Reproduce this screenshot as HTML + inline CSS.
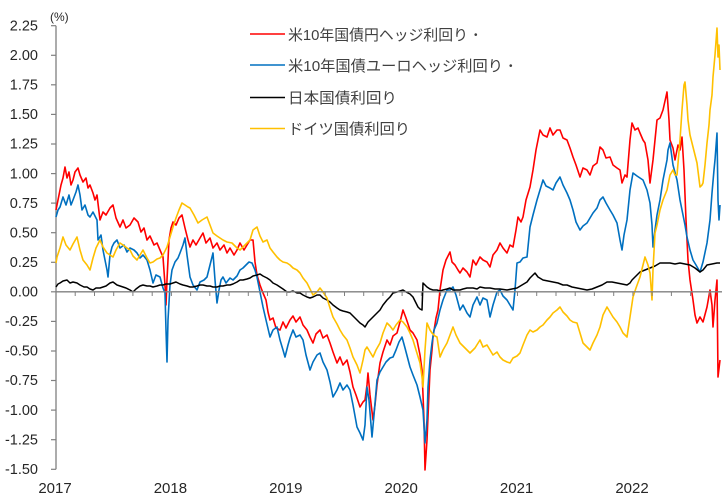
<!DOCTYPE html>
<html><head><meta charset="utf-8"><style>
html,body{margin:0;padding:0;background:#fff;}
svg{display:block;}
.t{font-family:"Liberation Sans","Noto Sans CJK JP",sans-serif;fill:#262626;}
</style></head><body>
<svg width="724" height="504" viewBox="0 0 724 504" xmlns="http://www.w3.org/2000/svg">
<rect width="724" height="504" fill="#fff"/>
<!-- y axis -->
<line x1="56" y1="25.7" x2="56" y2="469.3" stroke="#808080" stroke-width="1.3"/>
<g stroke="#808080" stroke-width="1.2">
<line x1="51" y1="25.7" x2="56" y2="25.7"/><line x1="51" y1="55.3" x2="56" y2="55.3"/>
<line x1="51" y1="84.8" x2="56" y2="84.8"/><line x1="51" y1="114.4" x2="56" y2="114.4"/>
<line x1="51" y1="144" x2="56" y2="144"/><line x1="51" y1="173.6" x2="56" y2="173.6"/>
<line x1="51" y1="203.1" x2="56" y2="203.1"/><line x1="51" y1="232.7" x2="56" y2="232.7"/>
<line x1="51" y1="262.3" x2="56" y2="262.3"/><line x1="51" y1="291.8" x2="56" y2="291.8"/>
<line x1="51" y1="321.4" x2="56" y2="321.4"/><line x1="51" y1="351" x2="56" y2="351"/>
<line x1="51" y1="380.5" x2="56" y2="380.5"/><line x1="51" y1="410.1" x2="56" y2="410.1"/>
<line x1="51" y1="439.7" x2="56" y2="439.7"/><line x1="51" y1="469.3" x2="56" y2="469.3"/>
</g>
<g class="t" font-size="14.5" text-anchor="end">
<text x="38" y="30.5">2.25</text><text x="38" y="60">2.00</text>
<text x="38" y="89.5">1.75</text><text x="38" y="119">1.50</text>
<text x="38" y="148.7">1.25</text><text x="38" y="178.3">1.00</text>
<text x="38" y="207.8">0.75</text><text x="38" y="237.4">0.50</text>
<text x="38" y="267">0.25</text><text x="38" y="296.5">0.00</text>
<text x="38" y="326.1">-0.25</text><text x="38" y="355.7">-0.50</text>
<text x="38" y="385.2">-0.75</text><text x="38" y="414.8">-1.00</text>
<text x="38" y="444.4">-1.25</text><text x="38" y="474">-1.50</text>
</g>
<text class="t" x="50" y="21" font-size="12">(%)</text>
<!-- x labels -->
<g class="t" font-size="15" text-anchor="middle">
<text x="55" y="493">2017</text><text x="170.4" y="493">2018</text>
<text x="285.8" y="493">2019</text><text x="401.2" y="493">2020</text>
<text x="516.6" y="493">2021</text><text x="632" y="493">2022</text>
</g>
<!-- series -->
<g fill="none" stroke-width="1.6" stroke-linejoin="round">
<polyline stroke="#FF0000" points="56,210 58,200 61,185 63,178 65,167 67,178 69,172 71,185 73,180 75,172 78,168 80,175 83,182 86,178 88,188 90,185 93,193 95,200 97,195 100,220 103,212 106,215 110,208 113,205 116,218 120,227 123,220 126,228 130,225 134,218 138,222 141,232 144,228 147,240 150,236 154,245 157,243 160,250 163,257 165,285 166,305 167,280 169,240 171,228 173,222 176,225 179,218 182,215 185,228 188,240 190,247 193,240 196,245 200,238 203,233 206,243 210,238 213,248 217,243 220,250 224,245 227,253 230,248 234,255 237,250 240,243 244,250 247,245 250,240 253,240 255,262 257,275 260,285 263,293 266,300 268,312 270,320 273,318 276,328 280,330 283,322 286,328 290,320 293,316 296,322 300,317 303,325 307,330 310,337 313,343 316,334 320,330 323,338 327,335 330,343 333,352 337,363 340,357 343,365 347,360 350,372 353,387 356,395 360,407 363,402 365,400 367,385 368,373 370,395 373,420 375,405 377,385 380,363 383,352 387,340 390,345 393,336 397,333 400,322 403,310 406,318 410,330 413,333 417,340 420,355 422,370 424,420 425,470 427,440 430,370 432,350 433,337 436,318 438,310 440,290 443,270 446,260 450,252 452,262 455,265 458,270 460,273 463,268 467,272 470,277 473,260 476,265 480,257 483,260 487,262 490,267 493,255 497,250 500,243 503,248 507,253 510,245 513,247 516,230 518,217 521,222 523,217 526,200 530,187 533,170 536,150 540,130 543,135 547,137 550,128 553,135 557,130 560,130 563,138 567,140 570,148 573,157 576,165 580,177 583,168 587,170 590,175 593,166 597,163 600,147 603,150 606,158 610,157 613,165 617,168 620,170 622,183 625,175 627,177 630,140 632,123 635,130 638,128 640,133 643,140 645,143 648,160 650,183 653,160 655,140 657,120 660,118 663,110 667,92 669,120 670,140 673,148 675,160 678,145 680,150 682,137 684,170 686,220 688,260 690,280 693,300 695,315 697,323 700,317 703,322 707,307 710,290 712,305 713,327 715,300 717,280 718,377 720,360"/>
<polyline stroke="#0070C0" points="56,217 58,210 60,207 63,197 66,205 69,195 71,205 73,200 76,192 78,185 80,195 82,210 85,205 88,215 90,217 93,212 97,220 98,240 101,235 103,250 105,260 107,270 108,277 110,255 112,247 114,243 117,240 120,248 124,245 127,252 130,248 134,250 137,253 140,258 143,255 147,260 150,270 153,283 156,275 160,277 163,288 165,293 166,330 167,362 168,320 170,285 172,270 175,262 178,258 180,253 183,245 185,238 187,255 190,277 193,285 197,290 200,282 204,280 207,277 210,265 213,253 215,280 217,303 219,290 221,280 223,277 226,283 230,278 233,280 237,276 240,270 243,268 246,265 249,262 252,263 255,270 257,277 260,292 263,307 266,320 270,337 273,330 277,327 280,340 283,350 285,357 288,345 290,338 293,330 296,337 300,335 303,340 306,355 310,370 313,362 317,355 320,353 323,362 327,370 330,382 333,397 337,390 340,383 343,390 347,385 350,390 353,405 357,427 360,433 363,440 365,425 367,387 369,400 372,437 374,415 377,380 380,372 383,367 386,362 390,358 393,357 396,350 399,342 402,337 405,348 410,367 413,375 417,385 420,397 423,410 425,443 427,420 428,387 430,360 432,343 434,330 437,323 440,310 443,300 447,290 450,290 453,287 456,295 460,310 463,305 467,313 470,317 473,305 477,297 480,305 483,298 487,300 490,317 493,305 497,292 500,290 503,296 507,300 510,305 513,310 515,290 517,263 520,262 523,258 527,257 530,227 533,215 537,200 540,190 543,180 546,186 550,188 553,190 556,183 560,177 563,185 567,193 570,200 573,210 576,222 580,230 583,226 587,223 590,218 593,213 597,208 600,200 603,197 606,203 610,210 613,215 617,223 620,240 622,250 624,235 627,220 630,190 633,173 637,176 640,178 643,180 647,190 650,203 652,225 653,247 655,230 657,215 660,200 663,180 667,160 668,150 670,143 673,165 677,180 680,200 682,210 685,225 687,237 690,250 693,260 696,265 700,272 703,262 707,243 710,220 712,193 714,170 715,160 717,133 718,200 719,220 720,205"/>
<polyline stroke="#000000" stroke-width="1.5" points="56,287 58,284 60,283 63,281 67,280 70,283 73,282 77,283 80,285 84,287 87,287 90,289 93,290 96,288 100,288 103,287 106,286 110,283 113,282 117,285 120,286 123,287 126,288 130,290 133,292 136,289 140,286 143,285 147,286 150,286 153,287 157,286 160,285 163,285 166,284 170,284 173,283 176,282 180,284 183,285 187,286 190,287 193,287 197,286 200,285 203,285 207,286 210,286 213,287 217,287 220,286 223,286 227,285 230,285 233,284 237,282 240,280 243,280 247,279 250,278 253,276 257,275 260,274 263,276 267,278 270,280 273,283 277,285 280,287 283,289 287,292 290,292 293,291 297,293 300,293 303,295 307,297 310,298 313,297 317,295 320,295 323,298 327,300 330,302 333,305 337,308 340,310 343,311 347,312 350,313 353,316 357,320 360,323 363,325 365,327 368,322 370,320 373,317 376,314 380,310 383,305 387,300 390,297 393,293 397,292 400,291 403,290 406,292 410,294 413,297 416,303 418,307 420,309 422,310 423,283 425,285 427,287 430,289 433,290 437,290 440,291 443,290 447,289 450,288 453,290 457,290 460,290 463,289 467,288 470,288 473,288 477,289 480,287 485,288 490,288 495,289 500,289 507,290 512,289 517,288 522,285 527,282 530,278 533,275 535,273 538,277 543,280 548,281 553,282 558,283 563,285 567,285 572,287 577,288 582,289 587,290 592,289 597,287 602,285 607,282 612,282 617,283 622,284 627,285 630,283 632,280 636,276 640,272 645,270 650,268 655,266 660,263 665,263 670,263 675,264 680,263 685,264 690,265 695,268 700,272 703,270 707,265 712,264 717,263 720,263"/>
<polyline stroke="#FFC000" points="56,263 57,257 60,248 63,237 66,245 70,250 73,244 77,237 80,250 83,260 87,265 90,270 93,258 96,248 100,240 103,247 107,253 110,255 113,257 116,250 120,243 123,245 127,248 130,250 133,256 137,260 140,255 143,250 147,258 150,263 153,262 157,259 160,258 163,255 167,247 170,237 173,227 176,218 179,210 182,203 185,205 188,207 190,208 194,215 198,223 202,220 207,217 210,225 213,233 217,236 220,238 223,240 227,242 232,243 236,247 240,250 244,246 247,243 250,240 253,230 257,227 260,236 263,242 267,240 270,248 273,252 277,257 280,260 283,262 287,263 290,265 293,268 297,270 300,273 303,278 307,283 310,289 313,295 317,292 320,288 323,292 327,298 330,308 333,317 337,324 340,330 343,335 347,340 350,348 353,357 357,365 360,373 363,360 365,350 367,347 370,352 373,357 376,350 380,343 383,333 387,323 390,326 393,330 396,325 400,320 403,322 407,327 410,333 413,340 416,350 420,363 422,377 423,387 425,350 427,323 430,330 432,333 435,336 437,337 440,357 443,350 447,343 450,335 453,327 456,335 460,343 465,348 470,353 475,348 480,340 483,347 487,345 490,350 493,355 497,352 500,357 503,360 507,362 510,363 513,358 517,356 520,353 523,345 527,335 530,330 533,332 537,330 540,327 543,325 547,320 550,317 553,313 557,310 560,307 563,312 567,316 570,320 573,322 577,323 580,333 583,343 587,347 590,350 593,343 597,335 600,327 603,315 607,307 610,312 613,317 617,322 620,327 623,333 627,337 630,317 633,297 636,288 640,277 643,265 645,257 648,265 650,273 652,300 653,270 655,233 657,225 660,210 663,200 667,190 670,175 673,170 675,175 677,175 680,140 682,110 684,85 685,82 687,105 688,120 690,135 692,143 695,155 697,163 700,187 702,185 703,183 705,165 707,143 709,125 710,110 712,95 713,77 715,55 717,28 718,57 719,45 720,70"/>
</g>
<!-- zero line with minor ticks -->
<line x1="56" y1="291.8" x2="722" y2="291.8" stroke="#808080" stroke-width="1.3"/>
<g stroke="#808080" stroke-width="1">
<line x1="75.2" y1="292" x2="75.2" y2="296"/><line x1="94.5" y1="292" x2="94.5" y2="296"/>
<line x1="113.7" y1="292" x2="113.7" y2="296"/><line x1="132.9" y1="292" x2="132.9" y2="296"/>
<line x1="152.2" y1="292" x2="152.2" y2="296"/><line x1="171.4" y1="292" x2="171.4" y2="296"/>
<line x1="190.6" y1="292" x2="190.6" y2="296"/><line x1="209.8" y1="292" x2="209.8" y2="296"/>
<line x1="229.1" y1="292" x2="229.1" y2="296"/><line x1="248.3" y1="292" x2="248.3" y2="296"/>
<line x1="267.5" y1="292" x2="267.5" y2="296"/><line x1="286.8" y1="292" x2="286.8" y2="296"/>
<line x1="306" y1="292" x2="306" y2="296"/><line x1="325.2" y1="292" x2="325.2" y2="296"/>
<line x1="344.5" y1="292" x2="344.5" y2="296"/><line x1="363.7" y1="292" x2="363.7" y2="296"/>
<line x1="382.9" y1="292" x2="382.9" y2="296"/><line x1="402.1" y1="292" x2="402.1" y2="296"/>
<line x1="421.4" y1="292" x2="421.4" y2="296"/><line x1="440.6" y1="292" x2="440.6" y2="296"/>
<line x1="459.8" y1="292" x2="459.8" y2="296"/><line x1="479.1" y1="292" x2="479.1" y2="296"/>
<line x1="498.3" y1="292" x2="498.3" y2="296"/><line x1="517.5" y1="292" x2="517.5" y2="296"/>
<line x1="536.7" y1="292" x2="536.7" y2="296"/><line x1="556" y1="292" x2="556" y2="296"/>
<line x1="575.2" y1="292" x2="575.2" y2="296"/><line x1="594.4" y1="292" x2="594.4" y2="296"/>
<line x1="613.7" y1="292" x2="613.7" y2="296"/><line x1="632.9" y1="292" x2="632.9" y2="296"/>
<line x1="652.1" y1="292" x2="652.1" y2="296"/><line x1="671.4" y1="292" x2="671.4" y2="296"/>
<line x1="690.6" y1="292" x2="690.6" y2="296"/><line x1="709.8" y1="292" x2="709.8" y2="296"/>
</g>
<!-- legend -->
<rect x="245" y="18" width="285" height="122" fill="#fff"/>
<g stroke-width="1.5">
<line x1="250" y1="34" x2="285" y2="34" stroke="#FF0000"/>
<line x1="250" y1="65" x2="285" y2="65" stroke="#0070C0"/>
<line x1="250" y1="97.5" x2="285" y2="97.5" stroke="#000000"/>
<line x1="250" y1="128.5" x2="285" y2="128.5" stroke="#FFC000"/>
</g>
<g font-family="Liberation Sans, Noto Sans CJK JP, sans-serif" font-size="15" fill="#404040">
<text x="288" y="40" textLength="180" lengthAdjust="spacingAndGlyphs">米10年国債円ヘッジ利回り</text>
<text x="288" y="71" textLength="215" lengthAdjust="spacingAndGlyphs">米10年国債ユーロヘッジ利回り</text>
<text x="288" y="103" textLength="109" lengthAdjust="spacingAndGlyphs">日本国債利回り</text>
<text x="288" y="134" textLength="122" lengthAdjust="spacingAndGlyphs">ドイツ国債利回り</text>
<text x="474" y="38" font-size="10">•</text>
<text x="509" y="69" font-size="10">•</text>
</g>
</svg>
</body></html>
